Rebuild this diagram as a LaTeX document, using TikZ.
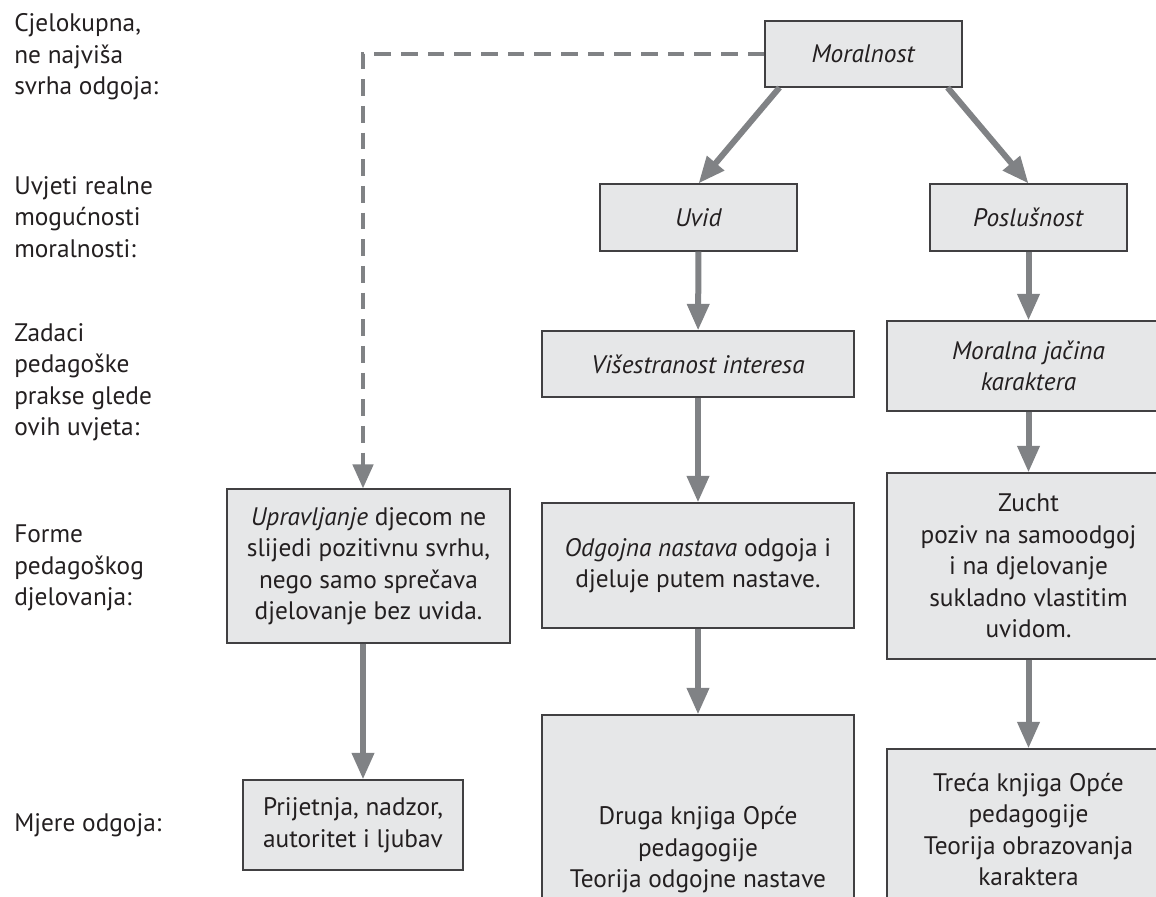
\documentclass[tikz,border=0pt]{standalone}
\usepackage{fontspec}
\setmainfont{PT Sans}
\usetikzlibrary{arrows.meta}

\definecolor{boxfill}{HTML}{E6E7E8}
\definecolor{boxline}{HTML}{414042}
\definecolor{flowgray}{HTML}{808285}
\definecolor{inktext}{HTML}{231F20}

\tikzset{
  box/.style={draw=boxline, line width=0.8pt, fill=boxfill, text=inktext,
    align=center, inner sep=0pt, font=\fontsize{19}{23.6}\selectfont},
  rowlabel/.style={anchor=west, align=left, inner sep=0pt, text=inktext,
    font=\fontsize{19}{23.6}\selectfont},
  flow/.style={draw=flowgray, line width=4.5pt,
    -{Triangle[length=20pt,width=16pt]}},
  dashflow/.style={draw=flowgray, line width=3.4pt,
    dash pattern=on 12.5pt off 7.5pt,
    -{Triangle[length=18pt,width=15pt]}}
}

\begin{document}
\begin{tikzpicture}[x=0.75pt,y=0.75pt,yscale=-1,xscale=1]
\useasboundingbox (0,0) rectangle (1156,896);

% row labels
\node[rowlabel] (l1) at (14,57) {Cjelokupna,\\ne najviša\\svrha odgoja:};
\node[rowlabel] (l2) at (14,217) {Uvjeti realne\\mogućnosti\\moralnosti:};
\node[rowlabel] (l3) at (14,382) {Zadaci\\pedagoške\\prakse glede\\ovih uvjeta:};
\node[rowlabel] (l4) at (14,568) {Forme\\pedagoškog\\djelovanja:};
\node[rowlabel] (l5) at (14,825) {Mjere odgoja:};

% boxes
\node[box, minimum width=147.75pt, minimum height=49.5pt] (mor) at (863.5,54) {\textit{Moralnost}};
\node[box, minimum width=147.75pt, minimum height=50.25pt] (uvid) at (698.5,217.5) {\textit{Uvid}};
\node[box, minimum width=147.75pt, minimum height=50.25pt] (posl) at (1028.5,217.5) {\textit{Poslušnost}};
\node[box, minimum width=234pt, minimum height=49.5pt] (vise) at (698,364) {\textit{Višestranost interesa}};
\node[box, minimum width=212.25pt, minimum height=67.5pt] (jacina) at (1028.5,366) {\textit{Moralna jačina}\\\textit{karaktera}};
\node[box, minimum width=212.25pt, minimum height=115.5pt] (upr) at (368.5,566) {\textit{Upravljanje} djecom ne\\slijedi pozitivnu svrhu,\\nego samo sprečava\\djelovanje bez uvida.};
\node[box, minimum width=234pt, minimum height=93.75pt] (odg) at (698,565.5) {\textit{Odgojna nastava} odgoja i\\djeluje putem nastave.};
\node[box, minimum width=212.25pt, minimum height=139.5pt] (zucht) at (1028.5,566) {Zucht\\poziv na samoodgoj\\i na djelovanje\\sukladno vlastitim\\uvidom.};
\node[box, minimum width=165pt, minimum height=67.5pt] (prij) at (353,825) {Prijetnja, nadzor,\\autoritet i ljubav};
\node[box, minimum width=234pt, minimum height=202.5pt] (druga) at (698,850) {Druga knjiga Opće\\pedagogije\\Teorija odgojne nastave};
\node[box, minimum width=212.25pt, minimum height=120.75pt] (treca) at (1028.5,829.5) {Treća knjiga Opće\\pedagogije\\Teorija obrazovanja\\karaktera};

% connectors
\coordinate (bend) at (363,54);
\draw[dashflow] (mor.west) -- (bend) -- (upr.north -| bend);
\draw[flow] ([xshift=11.25pt]mor.south west) -- (uvid.north);
\draw[flow] ([xshift=-11.25pt]mor.south east) -- (posl.north);
\draw[flow] (uvid) -- (vise);
\draw[flow] (posl) -- (jacina);
\draw[flow] (vise) -- (odg);
\draw[flow] (jacina) -- (zucht);
\draw[flow] (odg) -- (druga);
\draw[flow] (zucht) -- (treca);
\draw[flow] (upr.south -| bend) -- (prij.north -| bend);

\end{tikzpicture}
\end{document}
